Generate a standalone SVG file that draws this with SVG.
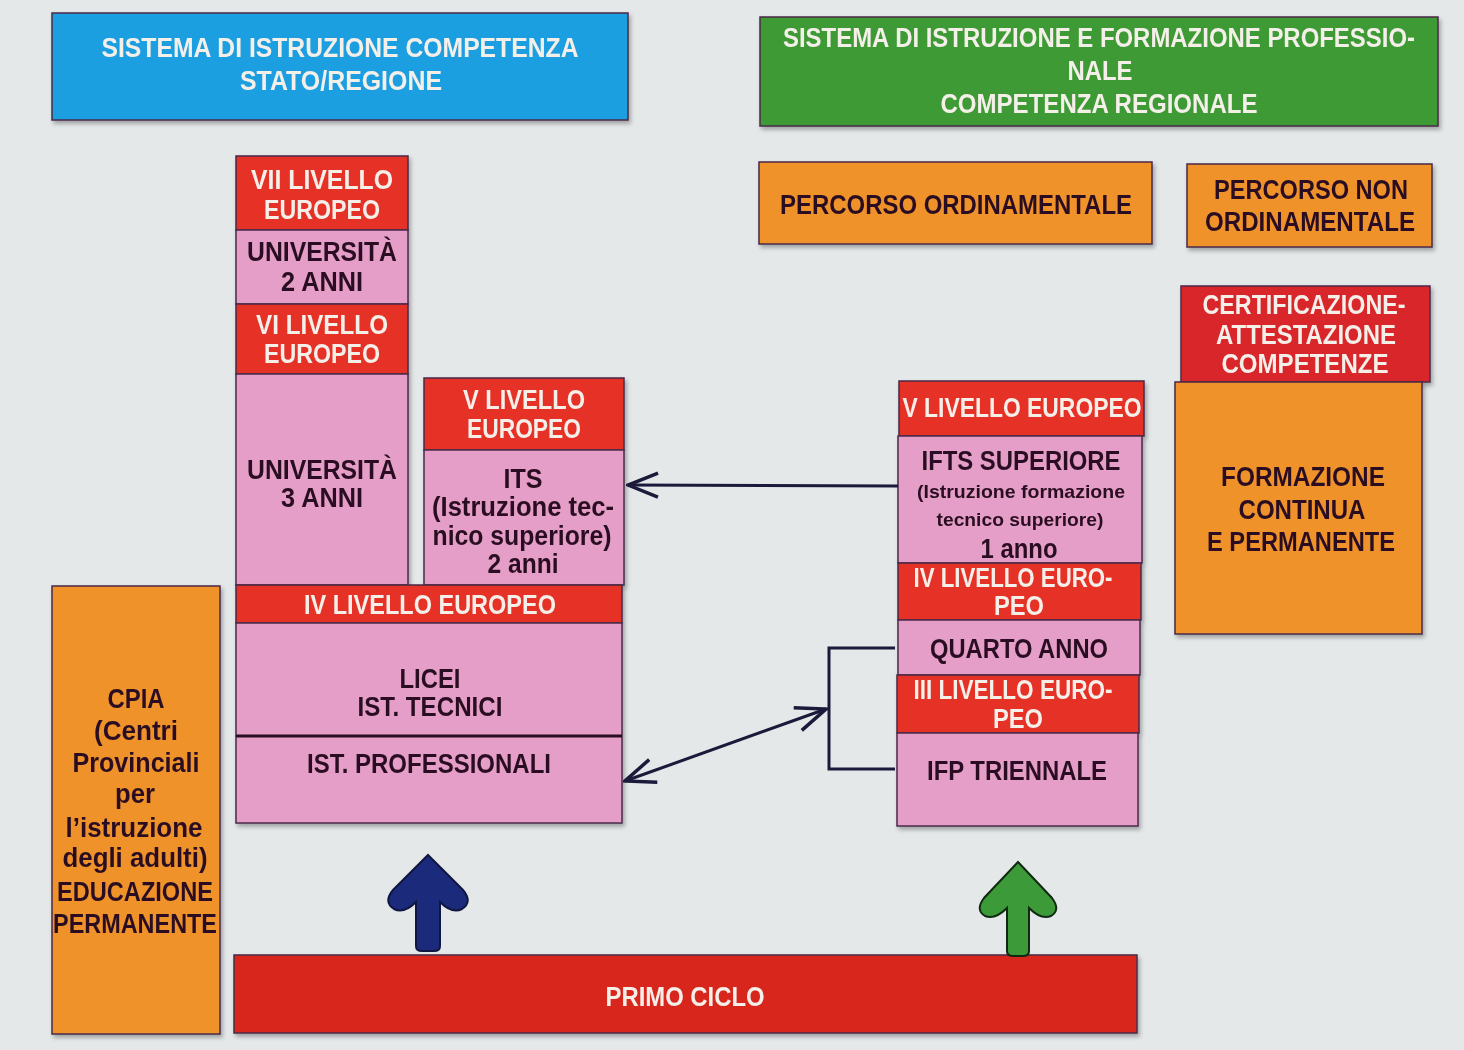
<svg xmlns="http://www.w3.org/2000/svg" width="1464" height="1050" viewBox="0 0 1464 1050">
<defs>
<style>
.bg{fill:#e4e8e9}
.box{stroke:#4a2a48;stroke-width:1.5}
.red{fill:#e63228}
.dred{fill:#d8282a}
.pink{fill:#e59ec8}
.orange{fill:#f0922c}
.blue{fill:#1f9fe0}
.green{fill:#3c9a34}
.pr{fill:#d9281f}
text{font-family:"Liberation Sans",Arial,sans-serif;font-weight:bold;text-anchor:middle}
.w{fill:#f5efe9;font-size:27px}
.d{fill:#2b1020;font-size:27px}
.s{fill:#2b1020;font-size:19px}
.conn{fill:none;stroke:#1b1a3a;stroke-width:3}
</style>
<filter id="sh" x="-5%" y="-5%" width="110%" height="115%">
<feDropShadow dx="2" dy="3" stdDeviation="2" flood-color="#000" flood-opacity="0.3"/>
</filter>
<marker id="chev" markerUnits="userSpaceOnUse" viewBox="0 0 34 28" markerWidth="34" markerHeight="28" refX="32" refY="14" orient="auto-start-reverse">
<path d="M2,2 L32,14 L2,26" fill="none" stroke="#1b1a3a" stroke-width="3.5"/>
</marker>
</defs>
<rect class="bg" x="0" y="0" width="1464" height="1050"/>

<g id="header-stato" filter="url(#sh)">
<rect class="box blue" x="52" y="13" width="576" height="107"/>
<text class="w" x="340" y="57" textLength="477" lengthAdjust="spacingAndGlyphs">SISTEMA DI ISTRUZIONE COMPETENZA</text>
<text class="w" x="341" y="90" textLength="202" lengthAdjust="spacingAndGlyphs">STATO/REGIONE</text>
</g>

<g id="header-regione" filter="url(#sh)">
<rect class="box green" x="760" y="17" width="678" height="109"/>
<text class="w" x="1099" y="47" font-size="24" textLength="632" lengthAdjust="spacingAndGlyphs">SISTEMA DI ISTRUZIONE E FORMAZIONE PROFESSIO-</text>
<text class="w" x="1100" y="80" textLength="65" lengthAdjust="spacingAndGlyphs">NALE</text>
<text class="w" x="1099" y="113" textLength="317" lengthAdjust="spacingAndGlyphs">COMPETENZA REGIONALE</text>
</g>

<g id="percorso-ordinamentale" filter="url(#sh)">
<rect class="box orange" x="759" y="162" width="393" height="82"/>
<text class="d" x="956" y="214" textLength="352" lengthAdjust="spacingAndGlyphs">PERCORSO ORDINAMENTALE</text>
</g>

<g id="percorso-non-ordinamentale" filter="url(#sh)">
<rect class="box orange" x="1187" y="164" width="245" height="83"/>
<text class="d" x="1311" y="199" textLength="194" lengthAdjust="spacingAndGlyphs">PERCORSO NON</text>
<text class="d" x="1310" y="231" textLength="210" lengthAdjust="spacingAndGlyphs">ORDINAMENTALE</text>
</g>

<g id="certificazione" filter="url(#sh)">
<rect class="box dred" x="1181" y="286" width="249" height="96"/>
<text class="w" x="1304" y="314" textLength="203" lengthAdjust="spacingAndGlyphs">CERTIFICAZIONE-</text>
<text class="w" x="1306" y="344" textLength="180" lengthAdjust="spacingAndGlyphs">ATTESTAZIONE</text>
<text class="w" x="1305" y="373" textLength="167" lengthAdjust="spacingAndGlyphs">COMPETENZE</text>
</g>

<g id="formazione-continua" filter="url(#sh)">
<rect class="box orange" x="1175" y="382" width="247" height="252"/>
<text class="d" x="1303" y="486" textLength="164" lengthAdjust="spacingAndGlyphs">FORMAZIONE</text>
<text class="d" x="1302" y="519" textLength="127" lengthAdjust="spacingAndGlyphs">CONTINUA</text>
<text class="d" x="1301" y="551" textLength="188" lengthAdjust="spacingAndGlyphs">E PERMANENTE</text>
</g>

<g id="universita" filter="url(#sh)">
<rect class="box red" x="236" y="156" width="172" height="74"/>
<text class="w" x="322" y="189" textLength="142" lengthAdjust="spacingAndGlyphs">VII LIVELLO</text>
<text class="w" x="322" y="219" textLength="116" lengthAdjust="spacingAndGlyphs">EUROPEO</text>
<rect class="box pink" x="236" y="230" width="172" height="74"/>
<text class="d" x="322" y="261" textLength="150" lengthAdjust="spacingAndGlyphs">UNIVERSITÀ</text>
<text class="d" x="322" y="291" textLength="82" lengthAdjust="spacingAndGlyphs">2 ANNI</text>
<rect class="box red" x="236" y="304" width="172" height="70"/>
<text class="w" x="322" y="334" textLength="132" lengthAdjust="spacingAndGlyphs">VI LIVELLO</text>
<text class="w" x="322" y="363" textLength="116" lengthAdjust="spacingAndGlyphs">EUROPEO</text>
<rect class="box pink" x="236" y="374" width="172" height="211"/>
<text class="d" x="322" y="479" textLength="150" lengthAdjust="spacingAndGlyphs">UNIVERSITÀ</text>
<text class="d" x="322" y="507" textLength="82" lengthAdjust="spacingAndGlyphs">3 ANNI</text>
</g>

<g id="its" filter="url(#sh)">
<rect class="box red" x="424" y="378" width="200" height="72"/>
<text class="w" x="524" y="409" textLength="122" lengthAdjust="spacingAndGlyphs">V LIVELLO</text>
<text class="w" x="524" y="438" textLength="114" lengthAdjust="spacingAndGlyphs">EUROPEO</text>
<rect class="box pink" x="424" y="450" width="200" height="135"/>
<text class="d" x="523" y="488" textLength="39" lengthAdjust="spacingAndGlyphs">ITS</text>
<text class="d" x="523" y="516" textLength="182" lengthAdjust="spacingAndGlyphs">(Istruzione tec-</text>
<text class="d" x="522" y="545" textLength="179" lengthAdjust="spacingAndGlyphs">nico superiore)</text>
<text class="d" x="523" y="573" textLength="71" lengthAdjust="spacingAndGlyphs">2 anni</text>
</g>

<g id="secondaria" filter="url(#sh)">
<rect class="box red" x="236" y="585" width="386" height="38"/>
<text class="w" x="430" y="614" textLength="252" lengthAdjust="spacingAndGlyphs">IV LIVELLO EUROPEO</text>
<rect class="box pink" x="236" y="623" width="386" height="200"/>
<text class="d" x="430" y="688" textLength="61" lengthAdjust="spacingAndGlyphs">LICEI</text>
<text class="d" x="430" y="716" textLength="145" lengthAdjust="spacingAndGlyphs">IST. TECNICI</text>
<line x1="236" y1="736" x2="622" y2="736" stroke="#2b1020" stroke-width="3"/>
<text class="d" x="429" y="773" textLength="244" lengthAdjust="spacingAndGlyphs">IST. PROFESSIONALI</text>
</g>

<g id="cpia" filter="url(#sh)">
<rect class="box orange" x="52" y="586" width="168" height="448"/>
<text class="d" x="136" y="708" font-size="25" textLength="57" lengthAdjust="spacingAndGlyphs">CPIA</text>
<text class="d" x="136" y="740" textLength="84" lengthAdjust="spacingAndGlyphs">(Centri</text>
<text class="d" x="136" y="772" textLength="127" lengthAdjust="spacingAndGlyphs">Provinciali</text>
<text class="d" x="135" y="803" textLength="40" lengthAdjust="spacingAndGlyphs">per</text>
<text class="d" x="134" y="837" textLength="137" lengthAdjust="spacingAndGlyphs">l’istruzione</text>
<text class="d" x="135" y="867" textLength="145" lengthAdjust="spacingAndGlyphs">degli adulti)</text>
<text class="d" x="135" y="901" textLength="156" lengthAdjust="spacingAndGlyphs">EDUCAZIONE</text>
<text class="d" x="135" y="933" textLength="164" lengthAdjust="spacingAndGlyphs">PERMANENTE</text>
</g>

<g id="ifp" filter="url(#sh)">
<rect class="box red" x="899" y="381" width="245" height="55"/>
<text class="w" x="1022" y="417" textLength="239" lengthAdjust="spacingAndGlyphs">V LIVELLO EUROPEO</text>
<rect class="box pink" x="898" y="436" width="244" height="127"/>
<text class="d" x="1021" y="470" textLength="199" lengthAdjust="spacingAndGlyphs">IFTS SUPERIORE</text>
<text class="s" x="1021" y="498" textLength="208" lengthAdjust="spacingAndGlyphs">(Istruzione formazione</text>
<text class="s" x="1020" y="526" textLength="167" lengthAdjust="spacingAndGlyphs">tecnico superiore)</text>
<text class="d" x="1019" y="558" font-size="25" textLength="77" lengthAdjust="spacingAndGlyphs">1 anno</text>
<rect class="box red" x="898" y="563" width="243" height="57"/>
<text class="w" x="1013" y="587" textLength="199" lengthAdjust="spacingAndGlyphs">IV LIVELLO EURO-</text>
<text class="w" x="1019" y="615" textLength="50" lengthAdjust="spacingAndGlyphs">PEO</text>
<rect class="box pink" x="898" y="620" width="242" height="55"/>
<text class="d" x="1019" y="658" textLength="178" lengthAdjust="spacingAndGlyphs">QUARTO ANNO</text>
<rect class="box red" x="897" y="675" width="242" height="58"/>
<text class="w" x="1013" y="699" textLength="199" lengthAdjust="spacingAndGlyphs">III LIVELLO EURO-</text>
<text class="w" x="1018" y="728" textLength="50" lengthAdjust="spacingAndGlyphs">PEO</text>
<rect class="box pink" x="897" y="733" width="241" height="93"/>
<text class="d" x="1017" y="780" textLength="180" lengthAdjust="spacingAndGlyphs">IFP TRIENNALE</text>
</g>

<g id="primo-ciclo" filter="url(#sh)">
<rect class="box pr" x="234" y="955" width="903" height="78"/>
<text class="w" x="685" y="1006" font-size="25" textLength="159" lengthAdjust="spacingAndGlyphs">PRIMO CICLO</text>
</g>

<g id="connectors">
<line class="conn" x1="898" y1="486" x2="628" y2="485" marker-end="url(#chev)"/>
<polyline class="conn" points="895,648 829,648 829,769 895,769"/>
<line class="conn" x1="826" y1="709" x2="625" y2="781" marker-start="url(#chev)" marker-end="url(#chev)"/>
<path d="M428,855 L463,890 Q473,902 462,909 Q452,914 440,902 L440,946 Q440,951 434,951 L422,951 Q416,951 416,946 L416,902 Q404,914 394,909 Q383,902 393,890 Z" fill="#1c2a7c" stroke="#0f1640" stroke-width="2"/>
<path d="M1018,862 L1052,898 Q1061,910 1051,916 Q1041,920 1029,908 L1029,951 Q1029,956 1023,956 L1013,956 Q1007,956 1007,951 L1007,908 Q995,920 985,916 Q975,910 984,898 Z" fill="#3c9a38" stroke="#0f2a10" stroke-width="2"/>
</g>
</svg>
